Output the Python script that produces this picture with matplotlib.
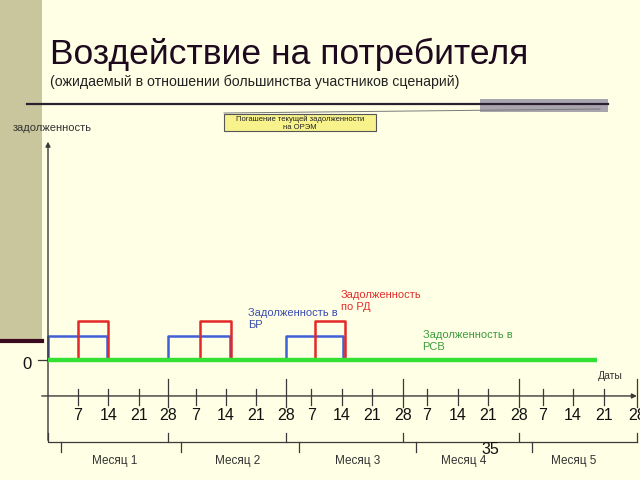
import matplotlib
matplotlib.use('Agg')
import matplotlib.pyplot as plt
from matplotlib.patches import Rectangle

plt.rcParams['font.family'] = ['Liberation Sans', 'DejaVu Sans']

# --- data (days from the start, debt level in relative units) ---
tick_days = [6.9, 14.0, 21.2, 28.0, 34.4, 41.4, 48.4, 55.3, 61.2, 68.4,
             75.3, 82.6, 88.1, 95.3, 102.3, 109.5, 115.1, 122.1, 129.3, 137.0]
tick_labels = ['7', '14', '21', '28'] * 5
month_edges = [0, 28.0, 55.3, 82.6, 109.5, 137.0]
month_names = ['Месяц 1', 'Месяц 2', 'Месяц 3', 'Месяц 4', 'Месяц 5']
month_label_days = [15.6, 44.0, 72.1, 96.7, 122.3]

br_start = [0.0, 28.0, 55.3]
br_end = [13.7, 42.3, 68.6]
br_level = 1.0

rd_start = [7.0, 35.3, 62.0]
rd_end = [14.0, 42.5, 69.0]
rd_level = 1.62

rsv_start = 0.0
rsv_end = 127.7
rsv_level = 0.0

bg = '#FFFFE5'
axis_col = '#3a3a3a'

fig = plt.figure(figsize=(6.4, 4.8), dpi=100)
fig.patch.set_facecolor(bg)

# pixel axes for slide decoration
deco = fig.add_axes([0, 0, 1, 1])
deco.set_xlim(0, 640)
deco.set_ylim(480, 0)
deco.axis('off')
deco.add_patch(Rectangle((0, 0), 42, 340, facecolor='#C9C59C', edgecolor='none'))
deco.plot([0, 42], [340.5, 340.5], color='#3a0a1e', lw=3)
deco.add_patch(Rectangle((480, 99), 128, 13, facecolor='#A9A5AE', edgecolor='none'))
deco.plot([27, 608], [104, 104], color='#2a2030', lw=1.6)
deco.plot([224, 600], [113, 109], color='#7a7a7a', lw=0.7)
deco.add_patch(Rectangle((224, 114), 152, 17, facecolor='#F7F28C',
                         edgecolor='#555555', lw=0.8))
deco.text(300, 123, 'Погашение текущей задолженности\nна ОРЭМ', ha='center', va='center',
          fontsize=5.5, linespacing=1.15, color='#222222')
deco.text(50, 64, 'Воздействие на потребителя', fontsize=25.5, color='#1e0a1e',
          va='baseline', ha='left')
deco.text(50, 82, '(ожидаемый в отношении большинства участников сценарий)',
          fontsize=10.2, color='#222222', va='center', ha='left')
deco.text(13, 128, 'задолженность', fontsize=8, color='#333333', va='center', ha='left')

# chart axes: x in days, y in debt units (48px = day 0, 360px = level 0)
ax = fig.add_axes([0, 0, 1, 1])
ax.patch.set_alpha(0)
ax.set_xlim(-48 / 4.3, 592 / 4.3)
ax.set_ylim(-120 / 24.3, 360 / 24.3)
ax.axis('off')

y_axis = -1.48

# axes with arrows
ax.annotate('', xy=(0, 9.1), xytext=(0, -3.42),
            arrowprops=dict(arrowstyle='-|>', color=axis_col, lw=1, mutation_scale=7))
ax.annotate('', xy=(137.6, y_axis), xytext=(-2.1, y_axis),
            arrowprops=dict(arrowstyle='-|>', color=axis_col, lw=1, mutation_scale=7))

# ticks and labels
for d, lab in zip(tick_days, tick_labels):
    if lab == '28':
        ax.plot([d, d], [-0.78, -1.92], color=axis_col, lw=0.9, clip_on=False)
    else:
        ax.plot([d, d], [-1.2, -1.85], color=axis_col, lw=0.9, clip_on=False)
    ax.text(d, -2.28, lab, ha='center', va='center', fontsize=11.5, color='#111111')

ax.plot([-2.33, 0], [0, 0], color=axis_col, lw=0.9)
ax.text(-4.9, -0.2, '0', ha='center', va='center', fontsize=12, color='#111111')
ax.text(130.7, -0.66, 'Даты', ha='center', va='center', fontsize=7.5, color='#333333')

# month brackets
for i, name in enumerate(month_names):
    a, b = month_edges[i], month_edges[i + 1]
    ax.plot([a, a, b], [-3.0, -3.37, -3.37], color=axis_col, lw=0.9, clip_on=False)
    ax.plot([a + 3.0, a + 3.0], [-3.37, -3.79], color=axis_col, lw=0.9)
    ax.text(month_label_days[i], -4.16, name, ha='center', va='center',
            fontsize=8.5, color='#333333')
ax.plot([month_edges[-1]] * 2, [-3.0, -3.37], color=axis_col, lw=0.9, clip_on=False)
ax.text(102.8, -3.7, '35', ha='center', va='center', fontsize=11.5, color='#111111')

# debt series
ax.plot([rsv_start, rsv_end], [rsv_level, rsv_level], color='#33E033', lw=3.2,
        solid_capstyle='butt', zorder=3)
for s, e in zip(br_start, br_end):
    ax.plot([s, s, e, e], [0, br_level, br_level, 0], color='#4060D8', lw=1.8, zorder=2)
for s, e in zip(rd_start, rd_end):
    ax.plot([s, s, e, e], [0, rd_level, rd_level, 0], color='#E42828', lw=1.8, zorder=2)

ax.text(46.5, 1.67, 'Задолженность в\nБР', color='#3A4DB0', fontsize=8,
        va='center', ha='left', linespacing=1.25)
ax.text(68.1, 2.41, 'Задолженность\nпо РД', color='#E02E2E', fontsize=8,
        va='center', ha='left', linespacing=1.25)
ax.text(87.1, 0.80, 'Задолженность в\nРСВ', color='#3C9C3C', fontsize=8,
        va='center', ha='left', linespacing=1.25)

fig.savefig('out.png', dpi=100, facecolor=bg)
